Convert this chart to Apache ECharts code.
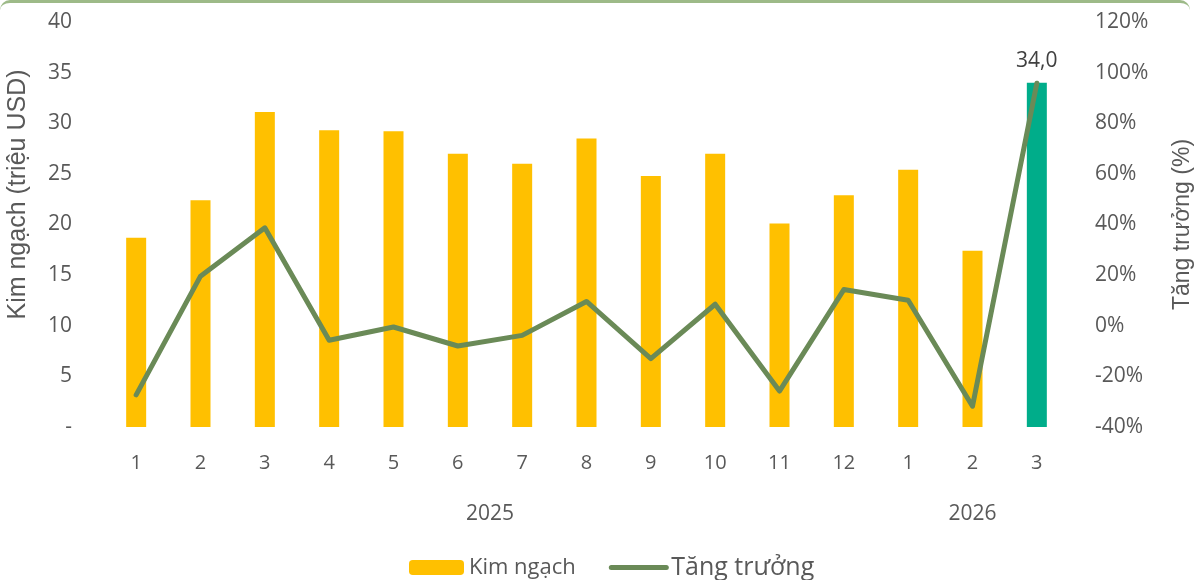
<!DOCTYPE html>
<html>
<head>
<meta charset="utf-8">
<script src="https://cdn.jsdelivr.net/npm/echarts@6/dist/echarts.min.js"></script>
<style>
  html, body { margin: 0; padding: 0; background: #fff; }
  #wrap { position: relative; width: 1196px; height: 580px; overflow: hidden; }
  #chart { width: 1196px; height: 580px; }
  #frame {
    position: absolute; left: 0; top: 0; width: 1190px; height: 640px;
    border-top: 3px solid #9dba88; border-radius: 10px; pointer-events: none;
  }
</style>
</head>
<body>
<div id="wrap">
  <div id="chart"></div>
  <div id="frame"></div>
</div>
<script>
  // tháng (trục x)
  var months = ['1', '2', '3', '4', '5', '6', '7', '8', '9', '10', '11', '12', '1', '2', '3'];
  // năm và số tháng của mỗi năm
  var years = ['2025', '2026'];
  var yearSpans = [12, 3];
  // kim ngạch (triệu USD)
  var kimNgach = [18.7, 22.4, 31.1, 29.3, 29.2, 27.0, 26.0, 28.5, 24.8, 27.0, 20.1, 22.9, 25.4, 17.4, 34.0];
  // tăng trưởng (%)
  var tangTruong = [-27.3, 19.6, 38.7, -5.7, -0.5, -8.0, -3.8, 9.6, -13.0, 8.5, -25.8, 14.3, 10.1, -31.8, 95.8];

  var textColor = '#595959';
  var font = "'Open Sans', sans-serif";
  var arial = "'Liberation Sans', Arial, sans-serif";
  var narrowFont = "'Liberation Sans Narrow', 'Open Sans', sans-serif";

  // nhãn năm đặt giữa nhóm tháng (trục phụ 2*n+1 điểm)
  var yearSlots = [];
  for (var i = 0; i <= months.length * 2; i++) yearSlots.push('');
  var start = 0;
  for (var j = 0; j < years.length; j++) {
    yearSlots[start * 2 + yearSpans[j]] = years[j];
    start += yearSpans[j];
  }

  var barData = kimNgach.map(function (v, idx) {
    if (idx === kimNgach.length - 1) {
      return {
        value: v,
        itemStyle: { color: '#00ad8a' },
        label: {
          show: true, position: 'top', distance: 11,
          color: '#404040', fontSize: 21, fontFamily: font,
          formatter: function (p) { return p.value.toFixed(1).replace('.', ','); }
        }
      };
    }
    return v;
  });

  var myChart = echarts.init(document.getElementById('chart'));
  var option = {
    animation: false,
    grid: { left: 104, right: 127, top: 22, bottom: 153, containLabel: false, outerBoundsMode: 'none' },
    legend: {
      left: 404, top: 550,
      itemWidth: 55, itemHeight: 15, itemGap: 33,
      textStyle: { color: textColor, fontFamily: font, fontSize: 22 },
      data: [
        { name: 'Kim ngạch', textStyle: { fontSize: 22 } },
        {
          name: 'Tăng trưởng',
          textStyle: { fontSize: 25 },
          itemStyle: { opacity: 0 },
          lineStyle: { width: 5, cap: 'round', color: '#6a8a57' }
        }
      ]
    },
    xAxis: [
      {
        type: 'category',
        data: months,
        axisLine: { show: false },
        axisTick: { show: false },
        axisLabel: { color: textColor, fontSize: 20, fontFamily: narrowFont, margin: 26 }
      },
      {
        type: 'category',
        position: 'bottom',
        boundaryGap: false,
        data: yearSlots,
        axisLine: { show: false },
        axisTick: { show: false },
        axisLabel: { interval: 0, color: textColor, fontSize: 21, fontFamily: narrowFont, margin: 77 }
      }
    ],
    yAxis: [
      {
        type: 'value',
        min: 0, max: 40, interval: 5,
        name: 'Kim ngạch (triệu USD)',
        nameLocation: 'middle',
        nameGap: 73,
        nameRotate: 90,
        nameTextStyle: { color: textColor, fontSize: 25, fontFamily: arial, padding: [0, 0, 0, 60] },
        axisLine: { show: false },
        axisTick: { show: false },
        splitLine: { show: false },
        axisLabel: {
          color: textColor, fontSize: 21, fontFamily: font, margin: 32,
          formatter: function (v) { return v === 0 ? '-' : v; }
        }
      },
      {
        type: 'value',
        min: -40, max: 120, interval: 20,
        name: 'Tăng trưởng (%)',
        nameLocation: 'middle',
        nameGap: 102,
        nameRotate: 90,
        nameTextStyle: { color: textColor, fontSize: 23, fontFamily: arial },
        axisLine: { show: false },
        axisTick: { show: false },
        splitLine: { show: false },
        axisLabel: {
          color: textColor, fontSize: 21, fontFamily: font, margin: 26,
          formatter: function (v) { return v + '%'; }
        }
      }
    ],
    series: [
      {
        name: 'Kim ngạch',
        type: 'bar',
        barWidth: 20,
        itemStyle: { color: '#ffc000' },
        data: barData
      },
      {
        name: 'Tăng trưởng',
        type: 'line',
        yAxisIndex: 1,
        symbol: 'none',
        itemStyle: { color: '#6a8a57' },
        lineStyle: { color: '#6a8a57', width: 5, cap: 'round', join: 'round' },
        data: tangTruong
      }
    ]
  };
  myChart.setOption(option);
</script>
</body>
</html>
